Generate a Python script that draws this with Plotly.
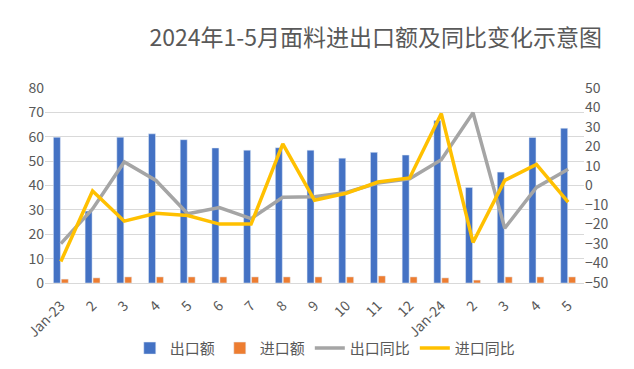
import plotly.graph_objects as go

categories = ["Jan-23", "2", "3", "4", "5", "6", "7", "8", "9", "10", "11", "12",
              "Jan-24", "2 ", "3 ", "4 ", "5 "]
tick_labels = ["Jan-23", "2", "3", "4", "5", "6", "7", "8", "9", "10", "11", "12",
               "Jan-24", "2", "3", "4", "5"]
export_amt = [59.8, 29.5, 59.8, 61.2, 58.8, 55.4, 54.5, 55.5, 54.5, 51.2, 53.6, 52.5,
              66.7, 39.2, 45.5, 59.7, 63.5]
import_amt = [1.6, 2.1, 2.5, 2.5, 2.5, 2.5, 2.5, 2.5, 2.5, 2.5, 2.9, 2.5,
              2.1, 1.2, 2.5, 2.5, 2.5]
export_yoy = [-29.8, -12.0, 12.1, 2.6, -14.5, -11.3, -17.0, -6.0, -5.8, -3.6, 1.3, 3.4,
              13.2, 37.3, -21.9, -1.0, 8.3]
import_yoy = [-39.0, -2.8, -18.3, -14.2, -15.4, -19.8, -19.8, 21.4, -7.6, -4.0, 1.8, 3.9,
              36.9, -29.2, 2.6, 10.8, -8.5]

font_family = "Noto Sans CJK SC, Noto Sans, sans-serif"
grey_text = "#595959"

fig = go.Figure()
fig.add_trace(go.Bar(x=categories, y=export_amt, name="出口额", marker_color="#4472C4"))
fig.add_trace(go.Bar(x=categories, y=import_amt, name="进口额", marker_color="#ED7D31"))
fig.add_trace(go.Scatter(x=categories, y=export_yoy, name="出口同比", mode="lines",
                         line=dict(color="#A5A5A5", width=3.5), yaxis="y2"))
fig.add_trace(go.Scatter(x=categories, y=import_yoy, name="进口同比", mode="lines",
                         line=dict(color="#FFC000", width=3.5), yaxis="y2"))

fig.update_layout(
    width=634, height=369,
    margin=dict(l=37, r=58, t=80, b=85),
    paper_bgcolor="white", plot_bgcolor="white",
    font=dict(family=font_family, color=grey_text, size=14),
    title=dict(text="2024年1-5月面料进出口额及同比变化示意图", x=0.58, xanchor="center",
               y=0.92, yanchor="middle", font=dict(size=23, color=grey_text)),
    barmode="group", bargap=0.5, bargroupgap=0.12,
    showlegend=True,
    legend=dict(orientation="h", x=0.52, xanchor="center", y=-0.335, yanchor="middle",
                font=dict(size=15, color=grey_text), itemwidth=30,
                bgcolor="rgba(0,0,0,0)", traceorder="normal"),
    xaxis=dict(tickmode="array", tickvals=categories, ticktext=tick_labels,
               tickangle=-45, showgrid=False, showline=True, linecolor="#D9D9D9",
               ticks="", ticklabelstandoff=8, automargin=False,
               tickfont=dict(size=14, color=grey_text)),
    yaxis=dict(range=[0, 80], dtick=10, showgrid=True, gridcolor="#D9D9D9",
               zeroline=False, ticks="", automargin=False,
               tickfont=dict(size=14, color=grey_text)),
    yaxis2=dict(range=[-50, 50], dtick=10, overlaying="y", side="right",
                showgrid=False, zeroline=False, ticks="", automargin=False,
                tickfont=dict(size=14, color=grey_text)),
)

fig.write_html("out.html")
